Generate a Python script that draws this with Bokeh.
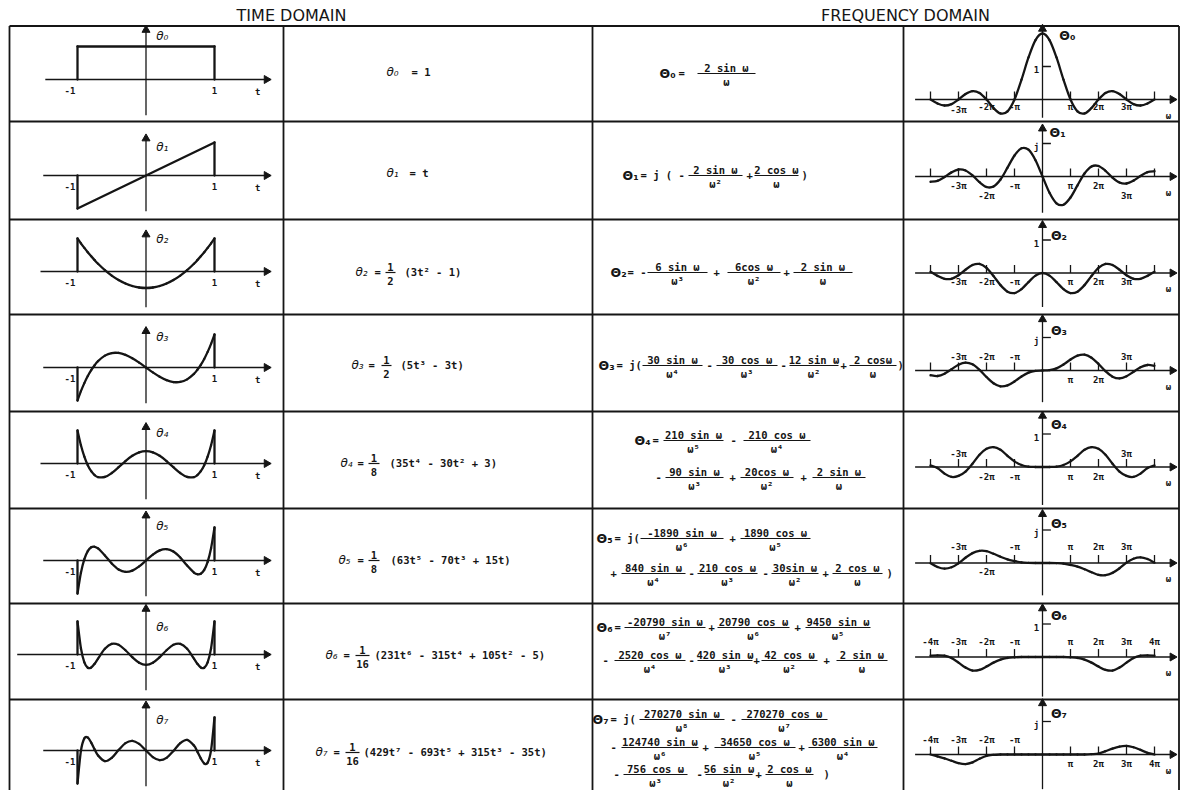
import math
from bokeh.plotting import figure
from bokeh.models import Range1d, ColumnDataSource
from bokeh.core.properties import value
from bokeh.embed import file_html
from bokeh.resources import INLINE

# ---------------------------------------------------------------- data
HEADERS = ["TIME DOMAIN", "FREQUENCY DOMAIN"]

# time domain: theta_n(t) on -1 <= t <= 1 (read from the sketches)
T_LINEAR = [-1.0, 1.0]
THETA_0 = [1.0, 1.0]
THETA_1 = [-1.0, 1.0]
T_SAMPLES = [-1.0, -0.95, -0.9, -0.85, -0.8, -0.75, -0.7, -0.6, -0.5, -0.4, -0.3, -0.2, -0.1, 0.0,
             0.1, 0.2, 0.3, 0.4, 0.5, 0.6, 0.7, 0.75, 0.8, 0.85, 0.9, 0.95, 1.0]
THETA_2 = [1.0, 0.854, 0.715, 0.584, 0.46, 0.344, 0.235, 0.04, -0.125, -0.26, -0.365, -0.44, -0.485, -0.5,
           -0.485, -0.44, -0.365, -0.26, -0.125, 0.04, 0.235, 0.344, 0.46, 0.584, 0.715, 0.854, 1.0]
THETA_3 = [-1.0, -0.718, -0.473, -0.26, -0.08, 0.07, 0.193, 0.36, 0.438, 0.44, 0.383, 0.28, 0.148, 0.0,
           -0.148, -0.28, -0.383, -0.44, -0.438, -0.36, -0.193, -0.07, 0.08, 0.26, 0.473, 0.718, 1.0]
THETA_4 = [1.0, 0.554, 0.208, -0.051, -0.233, -0.35, -0.412, -0.408, -0.289, -0.113, 0.073, 0.232, 0.338, 0.375,
           0.338, 0.232, 0.073, -0.113, -0.289, -0.408, -0.412, -0.35, -0.233, -0.051, 0.208, 0.554, 1.0]
THETA_5 = [-1.0, -0.373, 0.041, 0.286, 0.4, 0.416, 0.365, 0.153, -0.09, -0.271, -0.345, -0.308, -0.179, 0.0,
           0.179, 0.308, 0.345, 0.271, 0.09, -0.153, -0.365, -0.416, -0.4, -0.286, -0.041, 0.373, 1.0]
THETA_6 = [1.0, 0.188, -0.241, -0.403, -0.392, -0.281, -0.125, 0.172, 0.323, 0.293, 0.129, -0.081, -0.249, -0.313,
           -0.249, -0.081, 0.129, 0.293, 0.323, 0.172, -0.125, -0.281, -0.392, -0.403, -0.241, 0.188, 1.0]
THETA_7 = [-1.0, -0.011, 0.368, 0.391, 0.24, 0.034, -0.15, -0.323, -0.223, 0.015, 0.224, 0.294, 0.2, 0.0,
           -0.2, -0.294, -0.224, -0.015, 0.223, 0.323, 0.15, -0.034, -0.24, -0.391, -0.368, 0.011, 1.0]

# frequency domain: omega in units of pi
OMEGA_PI = [-4.0, -3.75, -3.5, -3.25, -3.0, -2.75, -2.5, -2.25, -2.0, -1.75, -1.5, -1.25, -1.0, -0.75, -0.5, -0.25,
            0.0, 0.25, 0.5, 0.75, 1.0, 1.25, 1.5, 1.75, 2.0, 2.25, 2.5, 2.75, 3.0, 3.25, 3.5, 3.75, 4.0]
FREQ_0 = [0.0, -0.12, -0.182, -0.139, 0.0, 0.164, 0.255, 0.2, 0.0, -0.257, -0.424, -0.36, 0.0, 0.6, 1.273, 1.801,
          2.0, 1.801, 1.273, 0.6, 0.0, -0.36, -0.424, -0.257, 0.0, 0.2, 0.255, 0.164, 0.0, -0.139, -0.182, -0.12, 0.0]
FREQ_1 = [-0.159, -0.13, -0.017, 0.125, 0.212, 0.183, 0.032, -0.172, -0.318, -0.304, -0.09, 0.268, 0.637, 0.855, 0.811, 0.492,
          0.0, -0.492, -0.811, -0.855, -0.637, -0.268, 0.09, 0.304, 0.318, 0.172, -0.032, -0.183, -0.212, -0.125, 0.017, 0.13, 0.159]
FREQ_2 = [0.038, -0.087, -0.177, -0.175, -0.068, 0.1, 0.242, 0.273, 0.152, -0.091, -0.367, -0.565, -0.608, -0.488, -0.275, -0.079,
          0.0, -0.079, -0.275, -0.488, -0.608, -0.565, -0.367, -0.091, 0.152, 0.273, 0.242, 0.1, -0.068, -0.175, -0.177, -0.087, 0.038]
FREQ_3 = [-0.144, -0.167, -0.097, 0.039, 0.176, 0.241, 0.187, 0.021, -0.197, -0.387, -0.48, -0.451, -0.331, -0.181, -0.064, -0.009,
          0.0, 0.009, 0.064, 0.181, 0.331, 0.451, 0.48, 0.387, 0.197, -0.021, -0.187, -0.241, -0.176, -0.039, 0.097, 0.167, 0.144]
FREQ_4 = [0.05, -0.03, -0.2, -0.3, -0.27, -0.14, 0.1, 0.37, 0.55, 0.6, 0.52, 0.34, 0.17, 0.06, 0.01, 0.0,
          0.0, 0.0, 0.01, 0.06, 0.17, 0.34, 0.52, 0.6, 0.55, 0.37, 0.1, -0.14, -0.27, -0.3, -0.2, -0.03, 0.05]
FREQ_5 = [-0.01, -0.12, -0.17, -0.13, -0.01, 0.16, 0.3, 0.37, 0.36, 0.28, 0.19, 0.11, 0.06, 0.02, 0.005, 0.0,
          0.0, 0.0, -0.005, -0.02, -0.06, -0.11, -0.19, -0.28, -0.36, -0.37, -0.3, -0.16, 0.01, 0.13, 0.17, 0.12, 0.01]
FREQ_6 = [0.04, 0.05, 0.04, -0.03, -0.17, -0.32, -0.41, -0.39, -0.29, -0.17, -0.08, -0.03, -0.01, 0.0, 0.0, 0.0,
          0.0, 0.0, 0.0, 0.0, -0.01, -0.03, -0.08, -0.17, -0.29, -0.39, -0.41, -0.32, -0.17, -0.03, 0.04, 0.05, 0.04]
FREQ_7 = [0.0, -0.06, -0.12, -0.19, -0.26, -0.29, -0.24, -0.13, -0.04, -0.01, 0.0, 0.0, 0.0, 0.0, 0.0, 0.0,
          0.0, 0.0, 0.0, 0.0, 0.0, 0.0, 0.0, 0.01, 0.03, 0.1, 0.18, 0.24, 0.26, 0.22, 0.14, 0.05, 0.0]

PI_TICKS = [-4, -3, -2, -1, 1, 2, 3, 4]
PI_TICK_LABELS = ["-4π", "-3π", "-2π", "-π", "π", "2π", "3π", "4π"]
TIME_LABELS = ["θ₀", "θ₁", "θ₂", "θ₃", "θ₄", "θ₅", "θ₆", "θ₇"]
FREQ_LABELS = ["Θ₀", "Θ₁", "Θ₂", "Θ₃", "Θ₄", "Θ₅", "Θ₆", "Θ₇"]
FREQ_UNIT_LABELS = ["1", "j", "1", "j", "1", "j", "1", "j"]

TIME_CURVES = [(T_LINEAR, THETA_0), (T_LINEAR, THETA_1), (T_SAMPLES, THETA_2), (T_SAMPLES, THETA_3),
               (T_SAMPLES, THETA_4), (T_SAMPLES, THETA_5), (T_SAMPLES, THETA_6), (T_SAMPLES, THETA_7)]
FREQ_CURVES = [FREQ_0, FREQ_1, FREQ_2, FREQ_3, FREQ_4, FREQ_5, FREQ_6, FREQ_7]

# formula texts: tokens ("i" italic theta, "g" capital theta, "t" text, "f" fraction)
TIME_FORMULAS = [
    (72, [("i", 386, "θ₀"), ("t", 411, "=  1")]),
    (173, [("i", 386, "θ₁"), ("t", 409, "=  t")]),
    (272, [("i", 355, "θ₂"), ("t", 374, "="), ("f", 385, 395, "1", "2"), ("t", 404, "(3t² - 1)")]),
    (365, [("i", 351, "θ₃"), ("t", 368, "="), ("f", 381, 391, "1", "2"), ("t", 400, "(5t³ - 3t)")]),
    (463, [("i", 340, "θ₄"), ("t", 357, "="), ("f", 368, 379, "1", "8"), ("t", 389, "(35t⁴ - 30t² + 3)")]),
    (560, [("i", 338, "θ₅"), ("t", 357, "="), ("f", 368, 379, "1", "8"), ("t", 390, "(63t⁵ - 70t³ + 15t)")]),
    (655, [("i", 325, "θ₆"), ("t", 343, "="), ("f", 355, 369, "1", "16"), ("t", 374, "(231t⁶ - 315t⁴ + 105t² - 5)")]),
    (752, [("i", 315, "θ₇"), ("t", 333, "="), ("f", 345, 359, "1", "16"), ("t", 363, "(429t⁷ - 693t⁵ + 315t³ - 35t)")]),
]
FREQ_FORMULAS = [
    (73, [("g", 659, "Θ₀"), ("t", 678, "="), ("f", 697, 755, "2 sin ω", "ω")]),
    (175, [("g", 622, "Θ₁"), ("t", 640, "= j ( -"), ("f", 688, 742, "2 sin ω", "ω²"), ("t", 746, "+"),
           ("f", 754, 798, "2 cos ω", "ω"), ("t", 801, ")")]),
    (272, [("g", 610, "Θ₂"), ("t", 627, "= -"), ("f", 647, 707, "6 sin ω", "ω³"), ("t", 713, "+"),
           ("f", 727, 780, "6cos ω", "ω²"), ("t", 783, "+"), ("f", 793, 852, "2 sin ω", "ω")]),
    (365, [("g", 598, "Θ₃"), ("t", 616, "= j("), ("f", 642, 702, "30 sin ω", "ω⁴"), ("t", 706, "-"),
           ("f", 716, 777, "30 cos ω", "ω³"), ("t", 780, "-"), ("f", 789, 838, "12 sin ω", "ω²"),
           ("t", 840, "+"), ("f", 849, 896, "2 cosω", "ω"), ("t", 897, ")")]),
    (440, [("g", 634, "Θ₄"), ("t", 652, "="), ("f", 663, 723, "210 sin ω", "ω⁵"), ("t", 730, "-"),
           ("f", 743, 810, "210 cos ω", "ω⁴")]),
    (477, [("t", 655, "-"), ("f", 665, 723, "90 sin ω", "ω³"), ("t", 729, "+"),
           ("f", 740, 793, "20cos ω", "ω²"), ("t", 800, "+"), ("f", 812, 865, "2 sin ω", "ω")]),
    (538, [("g", 596, "Θ₅"), ("t", 614, "= j("), ("f", 640, 723, "-1890 sin ω", "ω⁶"), ("t", 729, "+"),
           ("f", 740, 810, "1890 cos ω", "ω⁵")]),
    (573, [("t", 610, "+"), ("f", 621, 685, "840 sin ω", "ω⁴"), ("t", 688, "-"),
           ("f", 697, 757, "210 cos ω", "ω³"), ("t", 762, "-"), ("f", 771, 818, "30sin ω", "ω²"),
           ("t", 822, "+"), ("f", 832, 882, "2 cos ω", "ω"), ("t", 886, ")")]),
    (627, [("g", 596, "Θ₆"), ("t", 614, "="), ("f", 624, 705, "-20790 sin ω", "ω⁷"), ("t", 708, "+"),
           ("f", 717, 789, "20790 cos ω", "ω⁶"), ("t", 794, "+"), ("f", 805, 870, "9450 sin ω", "ω⁵")]),
    (660, [("t", 602, "-"), ("f", 614, 685, "2520 cos ω", "ω⁴"), ("t", 688, "-"),
           ("f", 697, 752, "420 sin ω", "ω³"), ("t", 753, "+"), ("f", 761, 817, "42 cos ω", "ω²"),
           ("t", 823, "+"), ("f", 836, 887, "2 sin ω", "ω")]),
    (719, [("g", 592, "Θ₇"), ("t", 610, "= j("), ("f", 639, 724, "270270 sin ω", "ω⁸"), ("t", 730, "-"),
           ("f", 741, 827, "270270 cos ω", "ω⁷")]),
    (747, [("t", 610, "-"), ("f", 621, 698, "124740 sin ω", "ω⁶"), ("t", 702, "+"),
           ("f", 714, 795, "34650 cos ω", "ω⁵"), ("t", 798, "+"), ("f", 808, 877, "6300 sin ω", "ω⁴")]),
    (774, [("t", 613, "-"), ("f", 623, 687, "756 cos ω", "ω³"), ("t", 696, "-"),
           ("f", 705, 752, "56 sin ω", "ω²"), ("t", 755, "+"), ("f", 765, 813, "2 cos ω", "ω"),
           ("t", 823, ")")]),
]

# ---------------------------------------------------------------- layout
INK = "#151515"
MONO = value("DejaVu Sans Mono")
SANS = value("DejaVu Sans")
FORMULA_SIZE = "10.5px"
ROW_TOP = [25.5, 121, 219, 314, 411, 508, 603, 699]
COL_X = [9, 283, 592, 903, 1178.5]
TABLE_BOTTOM = 796
UNIT_PX = 33.0
TIME_X = (77.0, 214.0)
TIME_AXIS_Y = [79, 175, 271, 367, 463, 560, 654, 750]
TIME_AXIS_START = [-1.47, -1.5, -1.54, -1.5, -1.54, -1.5, -1.88, -1.5]
TIME_AXIS_END = 1.76
TIME_VTOP = [1.5, 1.12, 1.12, 1.1, 1.1, 1.36, 1.38, 1.36]
TIME_VBOT = -1.08
TIME_LABEL_Y = [1.33, 0.86, 1.0, 0.92, 0.92, 1.06, 0.83, 0.91]
FREQ_X0, PI_PX = 1042.0, 28.0
FREQ_AXIS_END = 4.64
FREQ_AXIS_Y = [99, 176, 272.5, 370, 466.5, 562.5, 656.5, 754]
FREQ_VTOP = [2.14, 1.45, 1.45, 1.55, 1.55, 1.48, 1.47, 1.55]
FREQ_VBOT = [-0.55, -1.1, -1.03, -0.96, -1.15, -0.98, -1.2, -1.05]
FREQ_LABEL_POS = [(0.6, 1.94), (0.25, 1.34), (0.3, 1.14), (0.3, 1.21), (0.3, 1.3), (0.3, 1.2), (0.3, 1.26), (0.3, 1.23)]
# pixel offset of each pi label (positive = below the axis), None = no label
PI_LABEL_OFFSETS = [
    [None, 10, 7, 7, 7, 7, 7, None],
    [None, 9, 19, 9, 9, 9, 19, None],
    [None, 9, 9, 9, 9, 9, 9, None],
    [None, -14, -14, -14, 9, 9, -14, None],
    [None, -13, 10, 10, 10, 10, -13, None],
    [None, -16, 9, -16, -16, -16, -16, None],
    [-15, -15, -15, -15, -15, -15, -15, -15],
    [-15, -15, -15, -15, 9, 9, 9, 9],
]


def Y(v):
    return -v


p = figure(width=1180, height=790, x_range=Range1d(0, 1180), y_range=Range1d(-790, 0),
           output_backend="svg", toolbar_location=None, x_axis_type=None, y_axis_type=None,
           min_border=0, outline_line_color=None, title=None,
           background_fill_color="white", border_fill_color="white")

# table grid
hx0 = [COL_X[0]] * len(ROW_TOP)
hx1 = [COL_X[-1]] * len(ROW_TOP)
p.segment(x0=hx0, y0=[Y(v) for v in ROW_TOP], x1=hx1, y1=[Y(v) for v in ROW_TOP],
          line_color=INK, line_width=1.8)
p.segment(x0=COL_X, y0=[Y(ROW_TOP[0])] * len(COL_X), x1=COL_X, y1=[Y(TABLE_BOTTOM)] * len(COL_X),
          line_color=INK, line_width=1.8)

# headers
p.text(x=[291, 905], y=[Y(15), Y(15)], text=HEADERS, text_font=SANS, text_font_size="16px",
       text_align="center", text_baseline="middle", text_color=INK)


def draw_formulas(lines):
    tx, ty, tt, ix, iy, it, gx, gy, gt = [], [], [], [], [], [], [], [], []
    fx, fy, ft = [], [], []
    s0, s1, sy = [], [], []
    for bar_y, toks in lines:
        for tok in toks:
            if tok[0] == "t":
                tx.append(tok[1]); ty.append(Y(bar_y - 1)); tt.append(tok[2])
            elif tok[0] == "i":
                ix.append(tok[1]); iy.append(Y(bar_y - 1)); it.append(tok[2])
            elif tok[0] == "g":
                gx.append(tok[1]); gy.append(Y(bar_y)); gt.append(tok[2])
            else:
                _, a, b, num, den = tok
                s0.append(a); s1.append(b); sy.append(Y(bar_y))
                fx += [(a + b) / 2, (a + b) / 2]
                fy += [Y(bar_y - 6), Y(bar_y + 8.5)]
                ft += [num, den]
    p.text(x=tx, y=ty, text=tt, text_font=MONO, text_font_style="bold", text_font_size=FORMULA_SIZE,
           text_align="left", text_baseline="middle", text_color=INK)
    if ix:
        p.text(x=ix, y=iy, text=it, text_font=SANS, text_font_style="italic", text_font_size="12px",
               text_align="left", text_baseline="middle", text_color=INK)
    if gx:
        p.text(x=gx, y=gy, text=gt, text_font=SANS, text_font_style="bold", text_font_size="12.5px",
               text_align="left", text_baseline="middle", text_color=INK)
    p.text(x=fx, y=fy, text=ft, text_font=MONO, text_font_style="bold", text_font_size=FORMULA_SIZE,
           text_align="center", text_baseline="middle", text_color=INK)
    p.segment(x0=s0, y0=sy, x1=s1, y1=sy, line_color=INK, line_width=1.2)


draw_formulas(TIME_FORMULAS)
draw_formulas(FREQ_FORMULAS)


def catmull_source(xs, ys):
    n = len(xs)
    d = dict(x0=[], y0=[], x1=[], y1=[], cx0=[], cy0=[], cx1=[], cy1=[])
    for i in range(n - 1):
        a = max(i - 1, 0)
        b = min(i + 2, n - 1)
        d["x0"].append(xs[i]); d["y0"].append(ys[i])
        d["x1"].append(xs[i + 1]); d["y1"].append(ys[i + 1])
        d["cx0"].append(xs[i] + (xs[i + 1] - xs[a]) / 6.0)
        d["cy0"].append(ys[i] + (ys[i + 1] - ys[a]) / 6.0)
        d["cx1"].append(xs[i + 1] - (xs[b] - xs[i]) / 6.0)
        d["cy1"].append(ys[i + 1] - (ys[b] - ys[i]) / 6.0)
    return ColumnDataSource(d)


def draw_curve(sub, xs, ys):
    sub.bezier(x0="x0", y0="y0", x1="x1", y1="y1", cx0="cx0", cy0="cy0", cx1="cx1", cy1="cy1",
               source=catmull_source(xs, ys), line_color=INK, line_width=2.3, line_cap="round")


AX = dict(line_color=INK, line_width=1.3)
ARROW = dict(marker="triangle", size=8, fill_color=INK, line_color=INK)

# ---- time-domain sketches
for r in range(8):
    ay = TIME_AXIS_Y[r]
    s = p.subplot(x_source=Range1d(-1, 1), y_source=Range1d(0, 1),
                  x_target=Range1d(TIME_X[0], TIME_X[1]),
                  y_target=Range1d(Y(ay), Y(ay) + UNIT_PX))
    s.segment(x0=[TIME_AXIS_START[r], 0], y0=[0, TIME_VBOT], x1=[TIME_AXIS_END, 0], y1=[0, TIME_VTOP[r]], **AX)
    s.scatter(x=[TIME_AXIS_END, 0], y=[0, TIME_VTOP[r]], angle=[-math.pi / 2, 0], **ARROW)
    ts, vs = TIME_CURVES[r]
    draw_curve(s, ts, vs)
    s.segment(x0=[ts[0], ts[-1]], y0=[0, 0], x1=[ts[0], ts[-1]], y1=[vs[0], vs[-1]],
              line_color=INK, line_width=2.3, line_cap="round")
    s.text(x=[-1.03], y=[-11 / UNIT_PX], text=["-1"], text_font=MONO, text_font_style="bold",
           text_font_size="9px", text_align="right", text_baseline="middle", text_color=INK)
    s.text(x=[1.0, 1.63], y=[-11 / UNIT_PX, -12 / UNIT_PX], text=["1", "t"], text_font=MONO,
           text_font_style="bold", text_font_size="9px", text_align="center", text_baseline="middle",
           text_color=INK)
    s.text(x=[0.15], y=[TIME_LABEL_Y[r]], text=[TIME_LABELS[r]], text_font=SANS, text_font_style="italic",
           text_font_size="12px", text_align="left", text_baseline="middle", text_color=INK)

# ---- frequency-domain sketches
for r in range(8):
    ay = FREQ_AXIS_Y[r]
    s = p.subplot(x_source=Range1d(0, 1), y_source=Range1d(0, 1),
                  x_target=Range1d(FREQ_X0, FREQ_X0 + PI_PX),
                  y_target=Range1d(Y(ay), Y(ay) + UNIT_PX))
    s.segment(x0=[-4.55, 0], y0=[0, FREQ_VBOT[r]], x1=[FREQ_AXIS_END, 0], y1=[0, FREQ_VTOP[r]], **AX)
    s.scatter(x=[FREQ_AXIS_END, 0], y=[0, FREQ_VTOP[r]], angle=[-math.pi / 2, 0], **ARROW)
    s.segment(x0=PI_TICKS, y0=[0] * 8, x1=PI_TICKS, y1=[8 / UNIT_PX] * 8, **AX)
    s.segment(x0=[0], y0=[1], x1=[0.3], y1=[1], **AX)
    s.text(x=[-0.12], y=[0.9], text=[FREQ_UNIT_LABELS[r]], text_font=MONO, text_font_style="bold",
           text_font_size="9px", text_align="right", text_baseline="middle", text_color=INK)
    lx, ly, lt = [], [], []
    for k, lab, off in zip(PI_TICKS, PI_TICK_LABELS, PI_LABEL_OFFSETS[r]):
        if off is not None:
            lx.append(k); ly.append(-off / UNIT_PX); lt.append(lab)
    s.text(x=lx, y=ly, text=lt, text_font=MONO, text_font_style="bold", text_font_size="9px",
           text_align="center", text_baseline="middle", text_color=INK)
    s.text(x=[4.5], y=[-16 / UNIT_PX], text=["ω"], text_font=MONO, text_font_style="bold",
           text_font_size="9px", text_align="center", text_baseline="middle", text_color=INK)
    fx, fyv = FREQ_LABEL_POS[r]
    s.text(x=[fx], y=[fyv], text=[FREQ_LABELS[r]], text_font=SANS, text_font_style="bold",
           text_font_size="12.5px", text_align="left", text_baseline="middle", text_color=INK)
    draw_curve(s, OMEGA_PI, FREQ_CURVES[r])

open("out.html", "w").write(file_html(p, INLINE))
